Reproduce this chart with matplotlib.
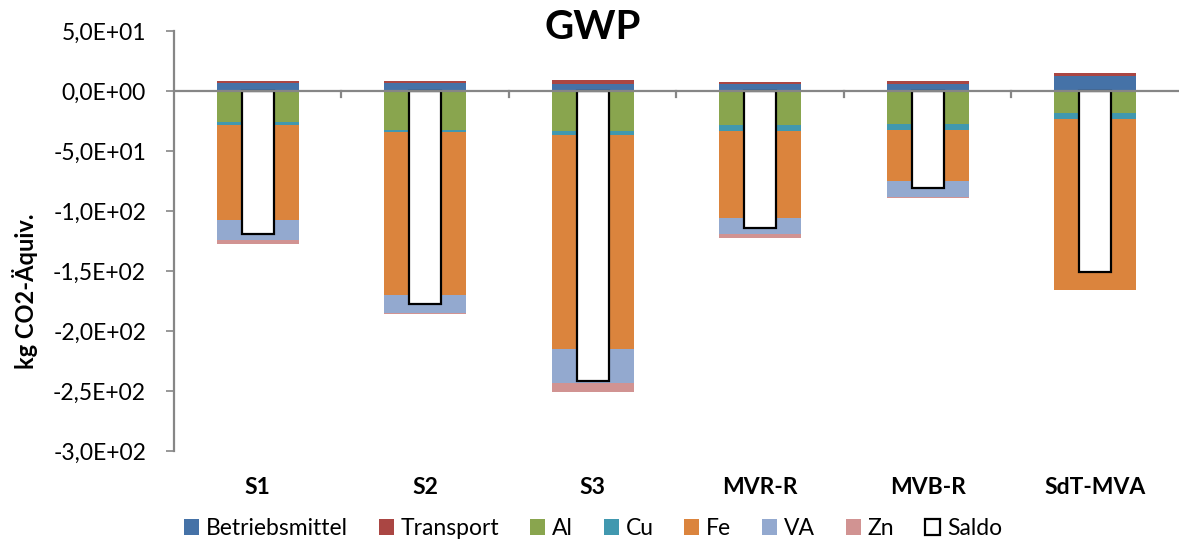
import matplotlib.pyplot as plt
import matplotlib.transforms as mtransforms
import numpy as np

plt.rcParams['font.family'] = ['Lato', 'DejaVu Sans']

szenarien = ["S1", "S2", "S3", "MVR-R", "MVB-R", "SdT-MVA"]

# Gutschriften/Lasten in kg CO2-Äquiv.
betriebsmittel = [6.5, 6.5, 6.1, 6.1, 6.1, 12.8]
transport = [1.5, 2.2, 2.8, 1.4, 2.2, 2.5]
al = [-26.0, -32.5, -33.6, -28.6, -27.8, -18.1]
cu = [-2.5, -1.7, -3.3, -4.4, -4.7, -5.5]
fe = [-79.0, -135.8, -178.3, -72.5, -42.5, -142.2]
va = [-16.7, -15.3, -28.3, -13.6, -13.0, 0.0]
zn = [-3.0, -0.5, -7.2, -3.0, -1.4, 0.0]
saldo = [-119.0, -177.5, -241.8, -114.4, -81.1, -150.5]

positiv = [("Betriebsmittel", betriebsmittel, "#4572A7"),
           ("Transport", transport, "#AA4643")]
negativ = [("Al", al, "#89A54E"),
           ("Cu", cu, "#4198AF"),
           ("Fe", fe, "#DB843D"),
           ("VA", va, "#93A9CF"),
           ("Zn", zn, "#D19392")]

x = np.arange(len(szenarien))
breite = 0.49

fig = plt.figure(figsize=(11.79, 5.45), dpi=100)
ax = fig.add_axes([0.1475, 0.1725, 0.8525, 0.7705])

handles = {}
unten = np.zeros(len(x))
for name, werte, farbe in positiv:
    werte = np.array(werte)
    handles[name] = ax.bar(x, werte, breite, bottom=unten, color=farbe, linewidth=0)
    unten += werte
unten = np.zeros(len(x))
for name, werte, farbe in negativ:
    werte = np.array(werte)
    handles[name] = ax.bar(x, werte, breite, bottom=unten, color=farbe, linewidth=0)
    unten += werte
handles["Saldo"] = ax.bar(x, saldo, 0.19, color="white", edgecolor="black",
                          linewidth=1.6, zorder=3)

grau = "#868686"
ax.axhline(0, color=grau, linewidth=1.6, zorder=4)
ax.set_xlim(-0.5, len(x) - 0.5)
ax.set_ylim(-300, 50)
ax.set_yticks(np.arange(-300, 51, 50))
ax.yaxis.set_major_formatter(lambda v, p: f"{v:.1E}".replace(".", ","))
ax.tick_params(axis="y", length=6, width=1.2, color=grau, labelsize=16.5, pad=14)

# Kategorienachse: Striche an der Nulllinie, Beschriftung unten
ax.set_xticks([])
for spine in ["top", "right", "bottom"]:
    ax.spines[spine].set_visible(False)
ax.spines["left"].set_color(grau)
ax.spines["left"].set_linewidth(1.6)
for grenze in np.arange(0.5, len(x) - 0.5, 1):
    ax.plot([grenze, grenze], [0, -5], color=grau, linewidth=1.6, zorder=4,
            clip_on=False)
trans = mtransforms.blended_transform_factory(ax.transData, ax.transAxes)
for xi, name in zip(x, szenarien):
    ax.text(xi, -0.086, name, transform=trans, ha="center", va="center",
            fontsize=16.5, fontweight="bold")

fig.text(0.503, 0.95, "GWP", ha="center", va="center", fontsize=29,
         fontweight="bold")
fig.text(0.021, 0.466, "kg CO2-Äquiv.", rotation=90, ha="center", va="center",
         fontsize=17, fontweight="bold")

namen = ["Betriebsmittel", "Transport", "Al", "Cu", "Fe", "VA", "Zn", "Saldo"]
fig.legend([handles[n] for n in namen], namen, loc="center",
           bbox_to_anchor=(0.503, 0.03), ncol=8, frameon=False, fontsize=16.5,
           handlelength=0.65, handleheight=0.65, handletextpad=0.3,
           columnspacing=1.35)

fig.savefig("out.png", dpi=100)
